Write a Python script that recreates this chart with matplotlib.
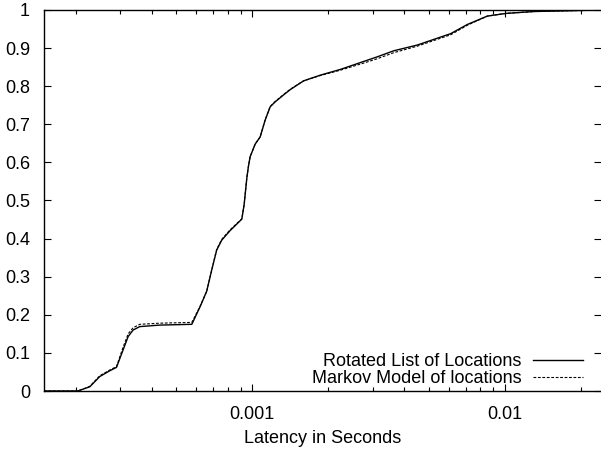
import matplotlib
matplotlib.use("Agg")
import matplotlib.pyplot as plt
from matplotlib.ticker import LogLocator, FixedLocator, FixedFormatter, NullFormatter

plt.rcParams['font.family'] = ['Liberation Sans', 'DejaVu Sans']

# Latency values (seconds)
latency = [1.5e-4, 2.04e-4, 2.276e-4, 2.494e-4, 2.73e-4, 2.904e-4, 3.085e-4, 3.23e-4,
           3.38e-4, 3.59e-4, 4.31e-4, 5.77e-4, 6.22e-4, 6.61e-4, 6.92e-4, 7.24e-4,
           7.58e-4, 8.18e-4, 9.10e-4, 9.30e-4, 9.53e-4, 9.67e-4, 9.82e-4, 1.028e-3,
           1.076e-3, 1.126e-3, 1.179e-3, 1.234e-3, 1.331e-3, 1.415e-3, 1.598e-3,
           1.862e-3, 2.234e-3, 2.683e-3, 3.125e-3, 3.637e-3, 4.505e-3, 6.11e-3,
           7.11e-3, 8.53e-3, 1.009e-2, 1.303e-2, 2.404e-2]

rotated = [0, 0, 0.011, 0.038, 0.053, 0.062, 0.108, 0.143, 0.160, 0.169, 0.173, 0.175,
           0.221, 0.262, 0.318, 0.370, 0.396, 0.421, 0.451, 0.49, 0.56, 0.59, 0.615,
           0.648, 0.667, 0.711, 0.746, 0.759, 0.777, 0.791, 0.814, 0.829, 0.844, 0.862,
           0.877, 0.893, 0.908, 0.938, 0.962, 0.984, 0.991, 0.996, 1.0]

markov = [0, 0, 0.012, 0.040, 0.055, 0.064, 0.115, 0.150, 0.166, 0.175, 0.178, 0.180,
          0.222, 0.262, 0.318, 0.372, 0.398, 0.423, 0.452, 0.49, 0.56, 0.59, 0.615,
          0.648, 0.667, 0.712, 0.747, 0.760, 0.778, 0.792, 0.814, 0.828, 0.842, 0.858,
          0.872, 0.888, 0.905, 0.935, 0.960, 0.984, 0.991, 0.996, 1.0]

series_labels = ["Rotated List of Locations", "Markov Model of locations"]
y_ticks = [0, 0.1, 0.2, 0.3, 0.4, 0.5, 0.6, 0.7, 0.8, 0.9, 1.0]
y_ticklabels = ["0", "0.1", "0.2", "0.3", "0.4", "0.5", "0.6", "0.7", "0.8", "0.9", "1"]
x_ticks = [0.001, 0.01]
x_ticklabels = ["0.001", "0.01"]

fig = plt.figure(figsize=(6.01, 4.51), dpi=100)
ax = fig.add_axes([44/601, 60/451, 557/601, 381/451])

ax.plot(latency, rotated, color='black', lw=1.0, label=series_labels[0])
ax.plot(latency, markov, color='black', lw=0.8, ls=(0, (2.5, 1.5)), label=series_labels[1])

ax.set_xscale('log')
ax.set_xlim(1.5e-4, 2.404e-2)
ax.set_ylim(0, 1)

ax.xaxis.set_major_locator(FixedLocator(x_ticks))
ax.xaxis.set_major_formatter(FixedFormatter(x_ticklabels))
ax.xaxis.set_minor_locator(LogLocator(base=10, subs=[2, 3, 4, 5, 6, 7, 8, 9]))
ax.xaxis.set_minor_formatter(NullFormatter())
ax.set_yticks(y_ticks)
ax.set_yticklabels(y_ticklabels)

ax.tick_params(axis='both', which='both', direction='in', top=True, right=True,
               labelsize=13, colors='black')
ax.tick_params(axis='both', which='major', length=5, width=0.8)
ax.tick_params(axis='both', which='minor', length=3, width=0.8)
ax.tick_params(axis='y', pad=10)
ax.tick_params(axis='x', pad=11)

for s in ['left', 'bottom', 'top']:
    ax.spines[s].set_linewidth(1.0)
ax.spines['right'].set_visible(False)

ax.set_xlabel("Latency in Seconds", fontsize=13, labelpad=5)

leg = ax.legend(loc='lower right', frameon=False, markerfirst=False, fontsize=13,
                handlelength=2.78, handletextpad=0.65, labelspacing=0.0,
                borderaxespad=0.0, borderpad=0.2, bbox_to_anchor=(0.975, 0.0))

fig.savefig("out.png", dpi=100)
